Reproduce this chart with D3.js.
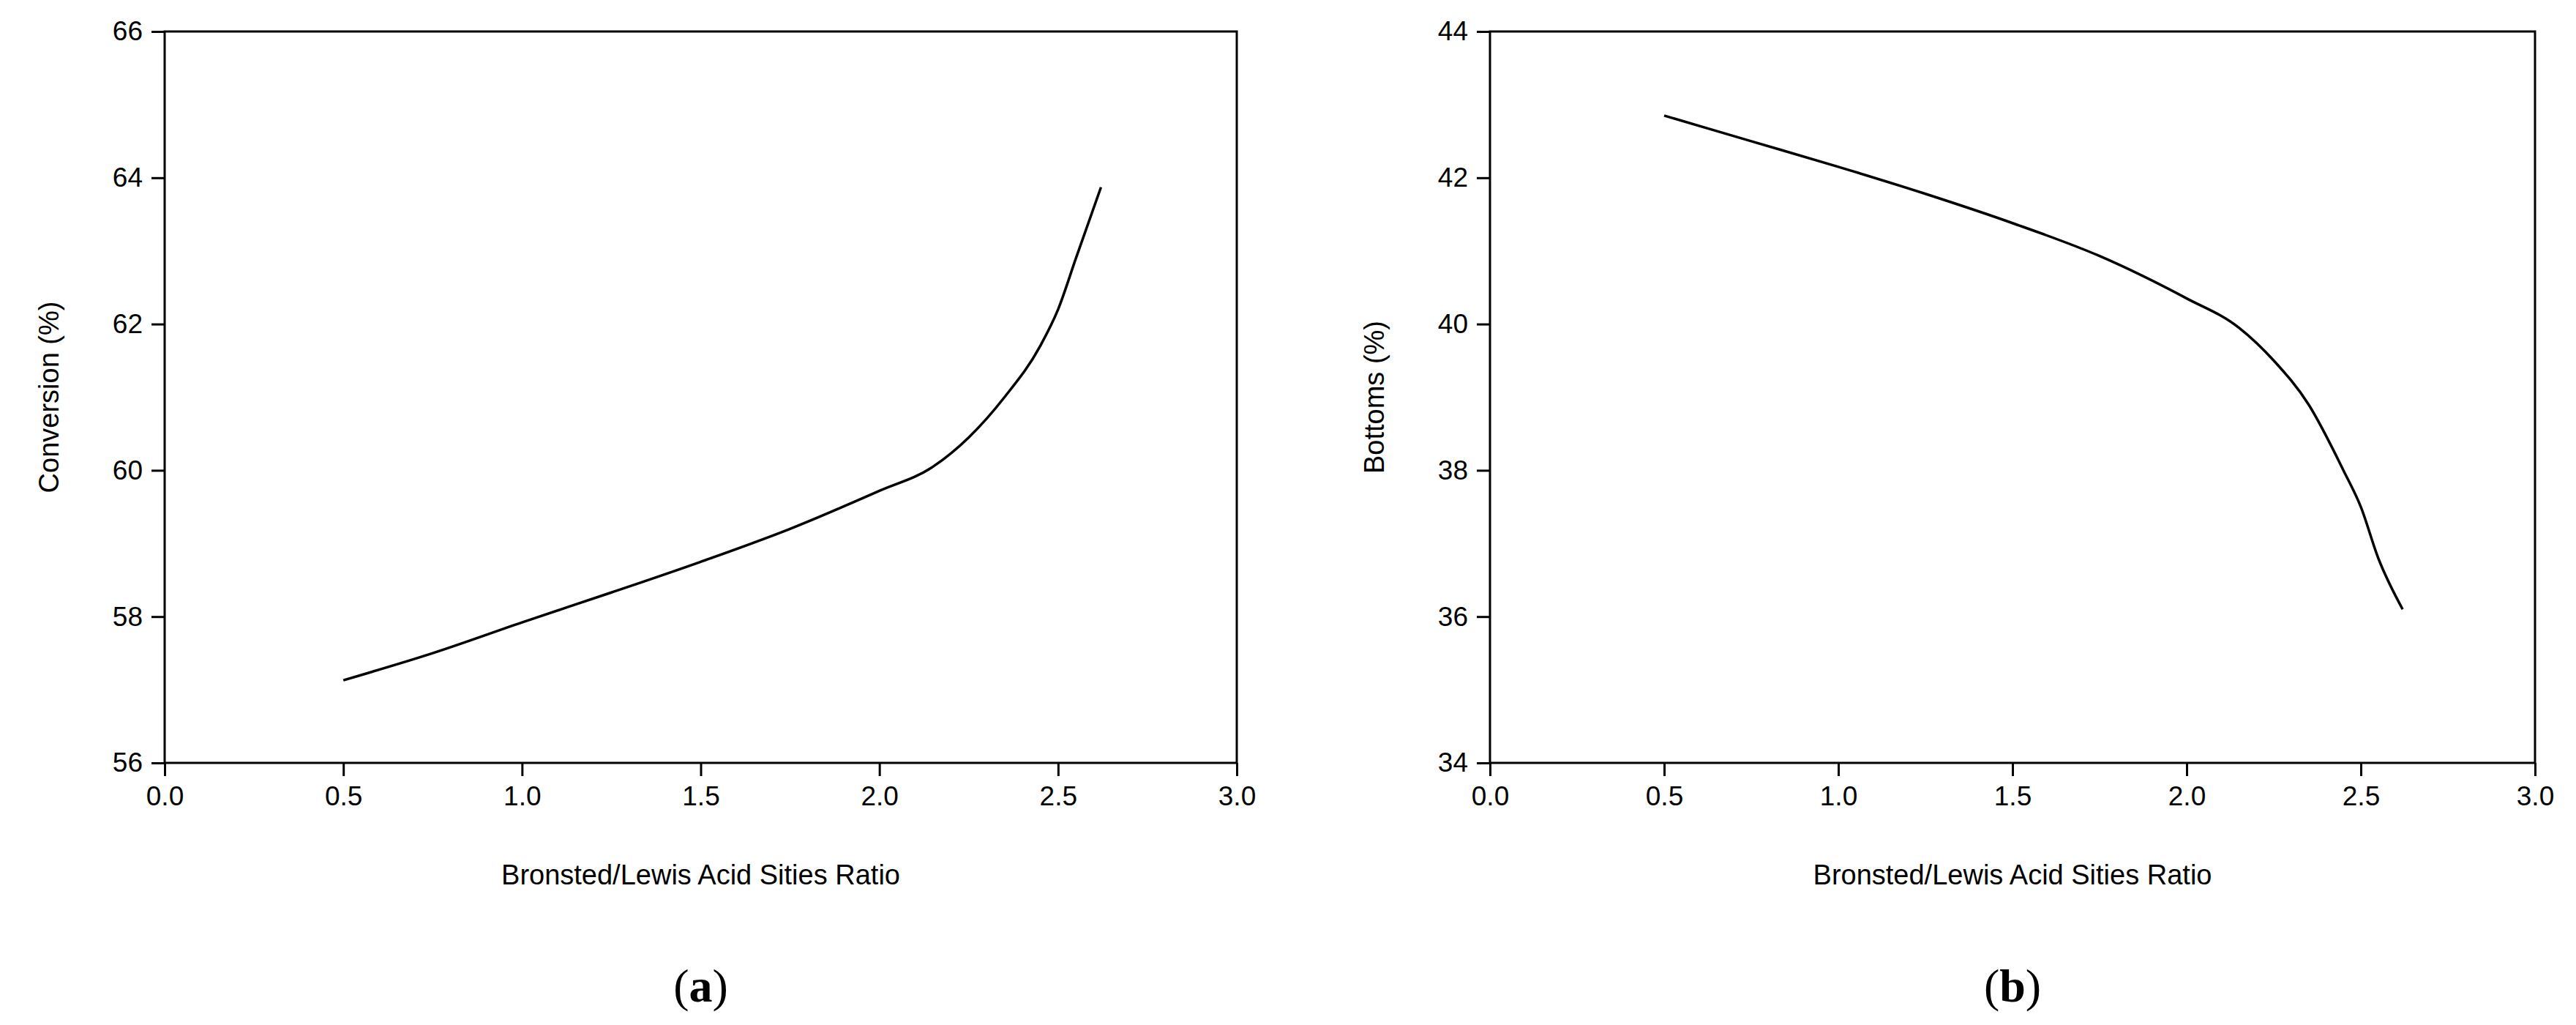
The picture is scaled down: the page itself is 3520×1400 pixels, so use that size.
<!DOCTYPE html>
<html><head><meta charset="utf-8">
<script src="https://cdn.jsdelivr.net/npm/d3@7"></script>
<style>body{margin:0;background:#fff}svg{display:block}</style>
</head><body>
<svg id="chart" width="3520" height="1400"></svg>
<script>
// ratio values shared by both panels
const ratio = [0.5, 0.75, 1.0, 1.25, 1.5, 1.75, 2.0, 2.15, 2.25, 2.35, 2.45, 2.5, 2.55, 2.62];
const conversion = [57.13, 57.5, 57.92, 58.33, 58.75, 59.2, 59.72, 60.05, 60.45, 61.0, 61.7, 62.2, 62.9, 63.87];
const bottoms = [42.85, 42.5, 42.15, 41.78, 41.38, 40.93, 40.35, 39.95, 39.5, 38.9, 38.0, 37.5, 36.8, 36.1];
const xTicks = [0, 0.5, 1, 1.5, 2, 2.5, 3];

const svg = d3.select("#chart");

function panel(left, right, yDomain, ys, yTitle, tag) {
  const top = 43, bottom = 1042;
  const x = d3.scaleLinear().domain([0, 3]).range([left, right]);
  const y = d3.scaleLinear().domain(yDomain).range([bottom, top]);
  const g = svg.append("g").attr("font-family", "Liberation Sans, Arial, sans-serif");

  g.append("rect").attr("x", left).attr("y", top).attr("width", right - left).attr("height", bottom - top)
    .attr("fill", "none").attr("stroke", "#000").attr("stroke-width", 3);

  const xa = g.append("g").attr("transform", `translate(0,${bottom})`)
    .call(d3.axisBottom(x).tickValues(xTicks).tickSize(18).tickPadding(14).tickFormat(d3.format(".1f")));
  const ya = g.append("g").attr("transform", `translate(${left},0)`)
    .call(d3.axisLeft(y).ticks(5).tickSize(18).tickPadding(12));
  [xa, ya].forEach(a => {
    a.select(".domain").remove();
    a.selectAll("line").attr("stroke-width", 3);
    a.selectAll("text").attr("font-size", 37).attr("font-family", "Liberation Sans, Arial, sans-serif");
  });

  g.append("path").datum(ratio.map((r, i) => [r, ys[i]]))
    .attr("fill", "none").attr("stroke", "#000").attr("stroke-width", 3.5)
    .attr("d", d3.line().x(d => x(d[0])).y(d => y(d[1])).curve(d3.curveMonotoneX));

  g.append("text").attr("x", (left + right) / 2).attr("y", 1208).attr("text-anchor", "middle")
    .attr("font-size", 38).text("Bronsted/Lewis Acid Sities Ratio");
  g.append("text").attr("transform", `translate(${left - 145},${(top + bottom) / 2}) rotate(-90)`)
    .attr("text-anchor", "middle").attr("font-size", 38).text(yTitle);

  const lab = g.append("text").attr("x", (left + right) / 2).attr("y", 1368).attr("text-anchor", "middle")
    .attr("font-family", "Liberation Serif, Times New Roman, serif").attr("font-size", 64);
  lab.append("tspan").text("(");
  lab.append("tspan").attr("font-weight", "bold").text(tag);
  lab.append("tspan").text(")");
}

panel(225, 1690, [56, 66], conversion, "Conversion (%)", "a");
panel(2036, 3464, [34, 44], bottoms, "Bottoms (%)", "b");
</script>
</body></html>
